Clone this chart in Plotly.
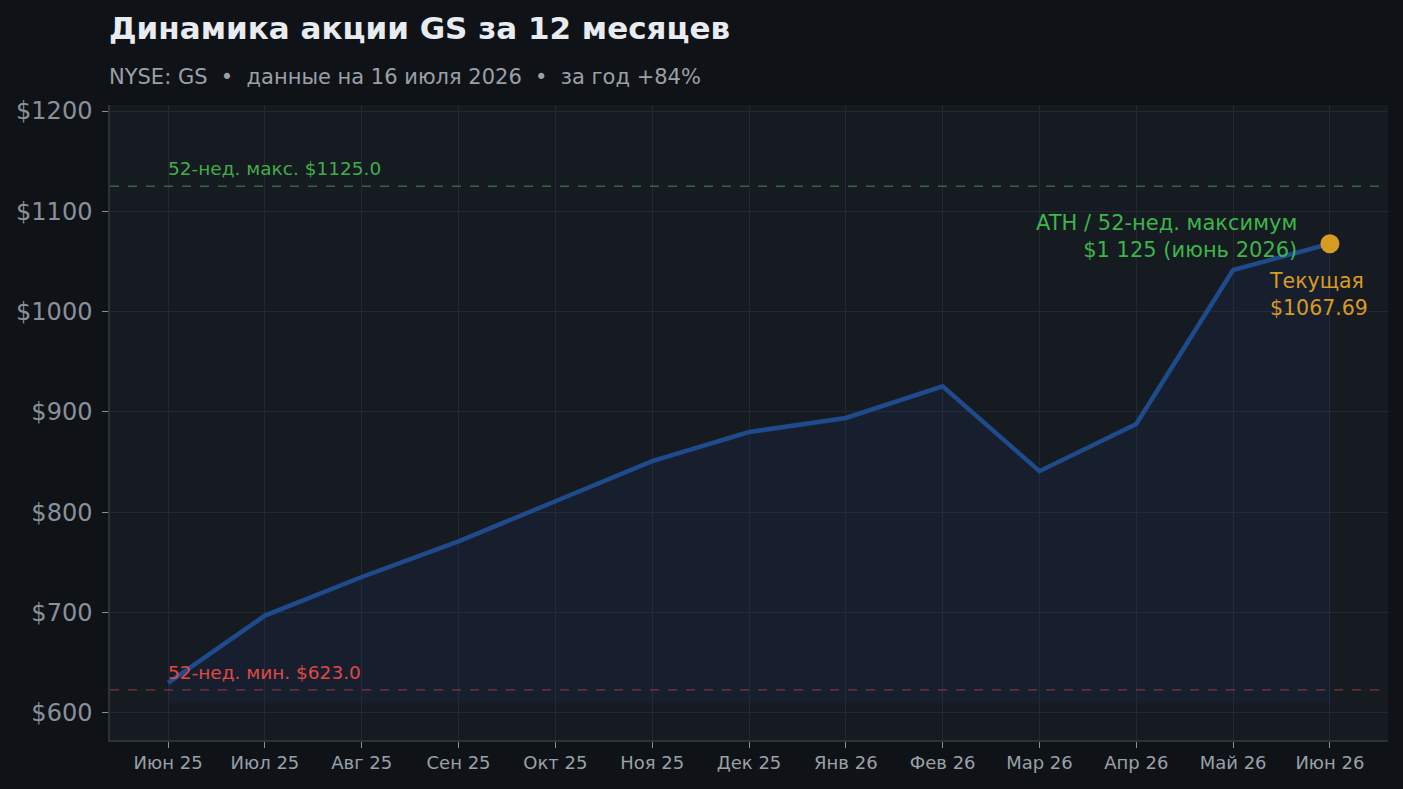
import plotly.graph_objects as go

months = ["Июн 25", "Июл 25", "Авг 25", "Сен 25", "Окт 25", "Ноя 25", "Дек 25",
          "Янв 26", "Фев 26", "Мар 26", "Апр 26", "Май 26", "Июн 26"]
prices = [630, 697, 735.5, 771, 811, 851, 880, 894, 925.5, 841, 888, 1041.5, 1067.69]
high_52w = 1125.0
low_52w = 623.0
current = 1067.69
fill_base = 610
y_ticks = [600, 700, 800, 900, 1000, 1100, 1200]
y_tick_labels = ["$600", "$700", "$800", "$900", "$1000", "$1100", "$1200"]

x_idx = list(range(len(months)))
FONT = "DejaVu Sans"

fig = go.Figure()
fig.add_trace(go.Scatter(x=x_idx, y=[fill_base] * len(x_idx), mode="lines",
                         line=dict(width=0), hoverinfo="skip", showlegend=False))
fig.add_trace(go.Scatter(x=x_idx, y=prices, mode="lines", fill="tonexty",
                         fillcolor="rgba(30,70,140,0.13)",
                         line=dict(color="#1f4a8c", width=4.5), showlegend=False))
fig.add_trace(go.Scatter(x=[x_idx[-1]], y=[current], mode="markers",
                         marker=dict(color="#d89b22", size=19), showlegend=False))

fig.add_hline(y=high_52w, line=dict(color="rgba(60,160,70,0.6)", width=1.4, dash="dash"))
fig.add_hline(y=low_52w, line=dict(color="rgba(200,70,70,0.6)", width=1.4, dash="dash"))

fig.add_annotation(x=0, y=high_52w, text=f"52-нед. макс. ${high_52w:.1f}", showarrow=False,
                   xanchor="left", yanchor="bottom", yshift=5, xshift=-2,
                   font=dict(family=FONT, size=18.5, color="#3fae4a"))
fig.add_annotation(x=0, y=low_52w, text=f"52-нед. мин. ${low_52w:.1f}", showarrow=False,
                   xanchor="left", yanchor="bottom", yshift=5, xshift=-2,
                   font=dict(family=FONT, size=18.5, color="#e04848"))
fig.add_annotation(x=x_idx[-1], y=current, text="ATH / 52-нед. максимум<br>$1 125 (июнь 2026)",
                   showarrow=False, xanchor="right", yanchor="middle", xshift=-31, yshift=7,
                   align="right", font=dict(family=FONT, size=21, color="#3cb54a"))
fig.add_annotation(x=x_idx[-1], y=current, text="Текущая<br>$1067.69",
                   showarrow=False, xanchor="left", yanchor="middle", xshift=-63, yshift=-51,
                   align="left", font=dict(family=FONT, size=20.5, color="#d89b22"))

fig.add_annotation(xref="paper", yref="paper", x=0, y=1.121, text="<b>Динамика акции GS за 12 месяцев</b>",
                   showarrow=False, xanchor="left", yanchor="middle", xshift=-3,
                   font=dict(family=FONT, size=31, color="#e8ecf0"))
fig.add_annotation(xref="paper", yref="paper", x=0, y=1.044,
                   text="NYSE: GS  •  данные на 16 июля 2026  •  за год +84%",
                   showarrow=False, xanchor="left", yanchor="middle", xshift=-3,
                   font=dict(family=FONT, size=21, color="#9aa0a8"))

fig.update_layout(
    width=1403, height=789,
    margin=dict(l=110, r=15, t=105, b=49),
    paper_bgcolor="#0f1317", plot_bgcolor="#161a21",
    font=dict(family=FONT),
    xaxis=dict(range=[-0.6, 12.6], tickmode="array", tickvals=x_idx, ticktext=months,
               showgrid=True, gridcolor="#232833", gridwidth=1, zeroline=False,
               showline=True, linecolor="#2c313a", linewidth=1.5,
               ticks="outside", ticklen=6, tickcolor="#8a9099",
               tickfont=dict(family=FONT, size=18, color="#9aa0a8")),
    yaxis=dict(range=[573, 1206], tickmode="array", tickvals=y_ticks, ticktext=y_tick_labels,
               showgrid=True, gridcolor="#232833", gridwidth=1, zeroline=False,
               showline=True, linecolor="#2c313a", linewidth=1.5,
               ticks="outside", ticklen=6, tickcolor="#8a9099", ticklabelstandoff=5,
               tickfont=dict(family=FONT, size=24, color="#8a9099")),
)

fig.write_html("out.html", post_script="document.body.style.margin='0';",
               config={"displayModeBar": False})
